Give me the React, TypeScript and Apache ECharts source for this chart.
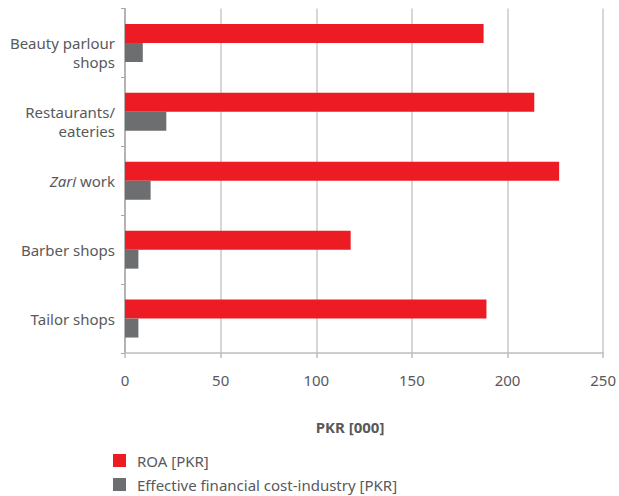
import React, { useEffect, useRef } from "react";
import * as echarts from "echarts";

const categories = ["Beauty parlour\nshops", "Restaurants/\neateries", "Zari work", "Barber shops", "Tailor shops"];
const roaValues = [187.5, 214, 227, 118, 189];
const costValues = [9.3, 21.6, 13.4, 7, 7];
const seriesNames = ["ROA [PKR]", "Effective financial cost-industry [PKR]"];
const xTicks = { min: 0, max: 250, interval: 50 };
const axisTitle = "PKR [000]";

const FONT = "Noto Sans";
const TEXT = "#58595B";

const legendBase = {
  orient: "vertical",
  left: 113,
  padding: 0,
  itemWidth: 13,
  itemHeight: 13,
  icon: "rect",
  textStyle: { color: TEXT, fontSize: 15, fontFamily: FONT, padding: [0, 0, 0, 6] },
};

export default function App() {
  const ref = useRef<HTMLDivElement>(null);
  useEffect(() => {
    if (!ref.current) return;
    const chart = echarts.init(ref.current, undefined, { renderer: "svg" });
    chart.setOption({
      animation: false,
      textStyle: { fontFamily: FONT },
      grid: { left: 125, right: 15, top: 8.5, bottom: 143, containLabel: false },
      legend: [
        { ...legendBase, top: 453, data: [seriesNames[0]] },
        { ...legendBase, top: 477, data: [seriesNames[1]] },
      ],
      xAxis: {
        type: "value",
        min: xTicks.min,
        max: xTicks.max,
        interval: xTicks.interval,
        axisLine: { show: true, lineStyle: { color: "#bdbdbd", width: 1.5 } },
        axisTick: { show: true, length: 5, lineStyle: { color: "#bdbdbd", width: 1.5 } },
        splitLine: { show: true, lineStyle: { color: "#cacaca", width: 1.5 } },
        axisLabel: { color: TEXT, fontSize: 15, margin: 19, fontFamily: FONT },
      },
      yAxis: {
        type: "category",
        inverse: true,
        data: categories.map((c) =>
          c.includes("\n") ? { value: c, textStyle: { padding: [19, 0, 0, 0] } } : c
        ),
        axisLine: { show: true, lineStyle: { color: "#a7a7a9", width: 1.5 } },
        axisTick: { show: true, length: 4, lineStyle: { color: "#a7a7a9", width: 1 } },
        axisLabel: {
          color: TEXT,
          fontSize: 15,
          fontFamily: FONT,
          margin: 10,
          lineHeight: 19,
          align: "right",
          formatter: (v: string) => (v === "Zari work" ? "{i|Zari} work" : v),
          rich: { i: { fontStyle: "italic", color: TEXT, fontSize: 15, fontFamily: FONT } },
        },
      },
      series: [
        {
          name: seriesNames[0],
          type: "bar",
          data: roaValues,
          barWidth: 19,
          barGap: "0%",
          itemStyle: { color: "#ED1C24" },
        },
        {
          name: seriesNames[1],
          type: "bar",
          data: costValues,
          barWidth: 19,
          barGap: "0%",
          itemStyle: { color: "#6D6E70" },
        },
      ],
      graphic: [
        {
          type: "text",
          x: 350,
          y: 427,
          style: {
            text: axisTitle,
            fill: TEXT,
            font: `bold 15px "${FONT}"`,
            textAlign: "center",
            textVerticalAlign: "middle",
          },
        },
      ],
    });
    return () => chart.dispose();
  }, []);
  return <div ref={ref} style={{ width: 619, height: 496, position: "absolute", left: 0, top: 0 }} />;
}
